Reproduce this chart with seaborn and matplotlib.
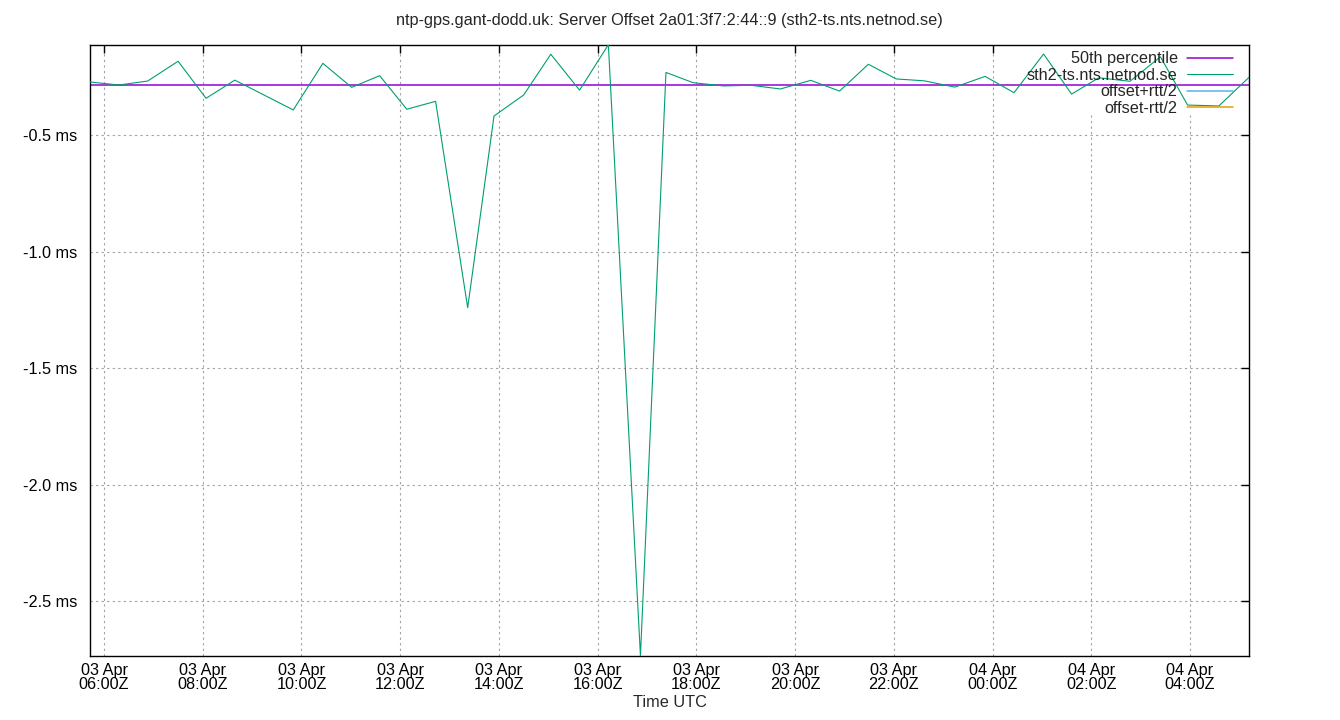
import pandas as pd
import numpy as np
import matplotlib
matplotlib.use("Agg")
import matplotlib.pyplot as plt
import matplotlib.dates as mdates
from matplotlib.ticker import FuncFormatter, FixedLocator
from matplotlib.patches import Rectangle
import seaborn as sns

sns.set_theme(style="white")
plt.rcParams['font.family'] = ['Liberation Sans', 'DejaVu Sans']

title = "ntp-gps.gant-dodd.uk: Server Offset 2a01:3f7:2:44::9 (sth2-ts.nts.netnod.se)"
server = "sth2-ts.nts.netnod.se"

times = [
    "2024-04-03 05:43", "2024-04-03 06:18", "2024-04-03 06:53", "2024-04-03 07:30",
    "2024-04-03 08:04", "2024-04-03 08:39", "2024-04-03 09:50", "2024-04-03 10:26",
    "2024-04-03 11:01", "2024-04-03 11:35", "2024-04-03 12:08", "2024-04-03 12:43",
    "2024-04-03 13:22", "2024-04-03 13:54", "2024-04-03 14:30", "2024-04-03 15:03",
    "2024-04-03 15:38", "2024-04-03 16:13", "2024-04-03 16:52", "2024-04-03 17:23",
    "2024-04-03 17:56", "2024-04-03 18:33", "2024-04-03 19:06", "2024-04-03 19:42",
    "2024-04-03 20:19", "2024-04-03 20:54", "2024-04-03 21:29", "2024-04-03 22:03",
    "2024-04-03 22:37", "2024-04-03 23:14", "2024-04-03 23:51", "2024-04-04 00:26",
    "2024-04-04 01:02", "2024-04-04 01:36", "2024-04-04 02:09", "2024-04-04 02:47",
    "2024-04-04 03:24", "2024-04-04 03:57", "2024-04-04 04:35", "2024-04-04 05:12",
]
offset_ms = [
    -0.271, -0.284, -0.267, -0.182, -0.341, -0.263, -0.391, -0.191,
    -0.294, -0.244, -0.388, -0.354, -1.240, -0.417, -0.327, -0.152,
    -0.306, -0.111, -2.735, -0.230, -0.274, -0.288, -0.285, -0.301,
    -0.264, -0.310, -0.195, -0.258, -0.266, -0.293, -0.247, -0.317,
    -0.151, -0.323, -0.253, -0.268, -0.163, -0.370, -0.374, -0.250,
]
p50_ms = -0.285
yticks = [-2.5, -2.0, -1.5, -1.0, -0.5]

FS = 11.7

df = pd.DataFrame({"time": pd.to_datetime(times), "offset": offset_ms})

fig = plt.figure(figsize=(13.4, 7.2), dpi=100)
ax = fig.add_axes([0.0672, 0.0889, 0.8651, 0.849])

# grid hidden under the key, like gnuplot's key box
ax.add_patch(Rectangle((0.80, 0.888), 0.2, 0.112, transform=ax.transAxes,
                       facecolor="white", edgecolor="none", zorder=1))

ax.axhline(p50_ms, color="#9400d3", lw=1.1, zorder=2, label="50th percentile")
sns.lineplot(data=df, x="time", y="offset", ax=ax, color="#009e73", lw=0.8,
             label=server, zorder=3)
ax.plot([], [], color="#56b4e9", lw=1.1, label="offset+rtt/2")
ax.plot([], [], color="#e69f00", lw=1.1, label="offset-rtt/2")

ax.set_xlim(df.time.iloc[0], df.time.iloc[-1])
ax.set_ylim(min(offset_ms), max(offset_ms))

ax.xaxis.set_major_locator(mdates.HourLocator(byhour=range(0, 24, 2)))
ax.xaxis.set_major_formatter(mdates.DateFormatter("%d %b\n%H:%MZ"))
ax.yaxis.set_major_locator(FixedLocator(yticks))
ax.yaxis.set_major_formatter(FuncFormatter(lambda v, p: f"{v:.1f} ms"))

ax.tick_params(direction="in", length=6, width=1, color="black",
               top=True, right=True, labelsize=FS, labelcolor="black")
ax.tick_params(axis="x", pad=5)
ax.tick_params(axis="y", pad=9)
for lab in ax.get_xticklabels():
    lab.set_linespacing(0.95)

ax.set_axisbelow(True)
ax.grid(True, color="#a0a0a0", linestyle=(0, (2, 3)), lw=0.8)
for s in ax.spines.values():
    s.set_color("black")
    s.set_linewidth(1)

ax.set_title(title, fontsize=FS, pad=14)
ax.set_xlabel("Time UTC", fontsize=FS, labelpad=2)
ax.set_ylabel("")

ax.legend(loc="upper right", bbox_to_anchor=(0.9915, 1.0), frameon=False,
          markerfirst=False, fontsize=FS, handlelength=2.8, handletextpad=0.6,
          labelspacing=0.1, borderaxespad=0.2, borderpad=0.2)

plt.savefig("out.png", dpi=100)
